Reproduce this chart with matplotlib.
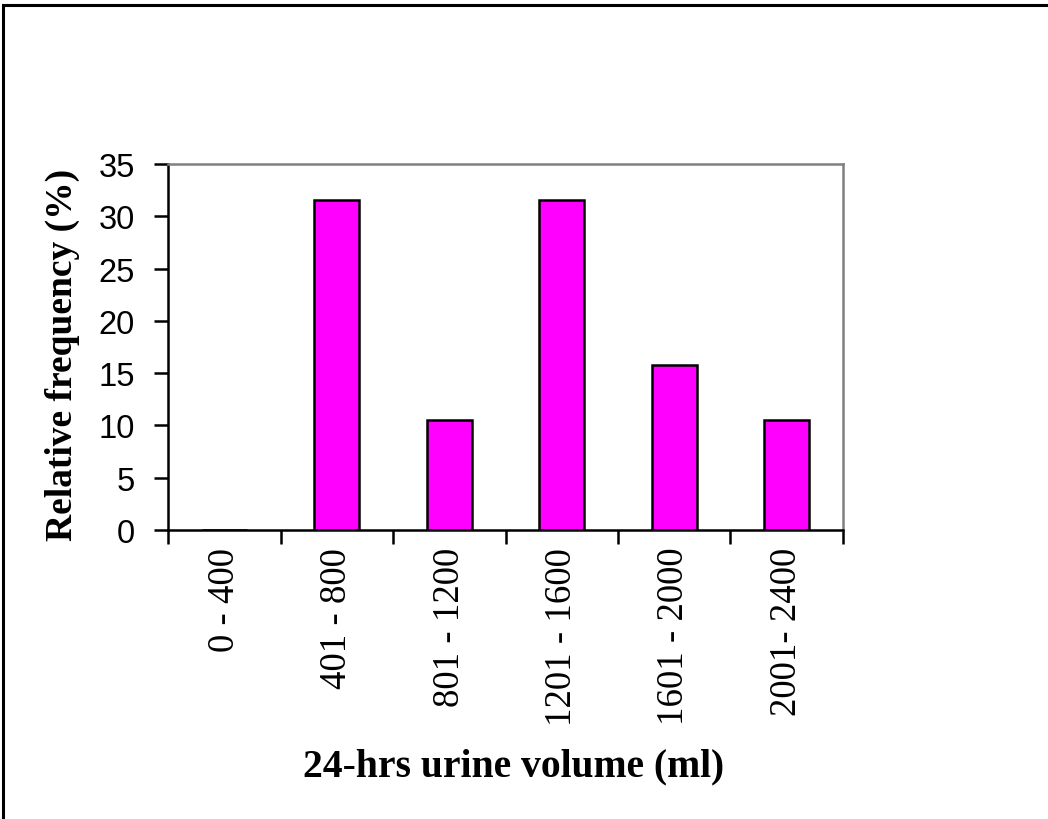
import numpy as np
import matplotlib
matplotlib.use("Agg")
import matplotlib.pyplot as plt
from matplotlib.patches import Rectangle

# data (19 samples -> 6/19, 2/19, ...)
categories = ["0 - 400", "401 - 800", "801 - 1200", "1201 - 1600", "1601 - 2000", "2001- 2400"]
rel_freq = [0.0, 31.58, 10.53, 31.58, 15.79, 10.53]
yticks = [0, 5, 10, 15, 20, 25, 30, 35]

fig = plt.figure(figsize=(10.48, 8.20), dpi=100)
ax = fig.add_axes([0.1606, 0.3524, 0.6435, 0.4463])

x = np.arange(len(categories))
ax.bar(x, rel_freq, width=0.4, color="#FF00FF", edgecolor="black", linewidth=1.8, zorder=3)

ax.set_xlim(-0.5, len(categories) - 0.5)
ax.set_ylim(0, 35)

# ticks on category boundaries, labels centred under bars
ax.set_xticks(np.arange(len(categories) + 1) - 0.5)
ax.set_xticklabels([])
ax.set_xticks(x, minor=True)
ax.set_xticklabels(categories, minor=True, rotation=90, va="top",
                   fontsize=26.5, family="Liberation Serif")
ax.tick_params(axis="x", which="minor", length=0, pad=12)
ax.tick_params(axis="x", which="major", direction="out", length=10, width=1.8)

ax.set_yticks(yticks)
ax.set_yticklabels([str(v) for v in yticks], fontsize=23.5, family="Liberation Sans")
ax.tick_params(axis="y", direction="out", length=10, width=1.8, pad=14)

for side in ["left", "bottom"]:
    ax.spines[side].set_color("black")
    ax.spines[side].set_linewidth(1.8)
for side in ["right", "top"]:
    ax.spines[side].set_color("#808080")
    ax.spines[side].set_linewidth(1.8)

fig.text(514 / 1048, 1 - 767 / 820, "24-hrs urine volume (ml)", ha="center", va="center",
         fontsize=28.5, fontweight="bold", family="Liberation Serif")
fig.text(62 / 1048, 1 - 355 / 820, "Relative frequency (%)", ha="center", va="center",
         rotation=90, fontsize=27, fontweight="bold", family="Liberation Serif")

# outer frame (only left and top edges fall inside the image)
fig.patches.append(Rectangle((3, -20), 1100, 834, transform=None, fill=False,
                             edgecolor="black", linewidth=2.2))

fig.savefig("out.png", dpi=100)
